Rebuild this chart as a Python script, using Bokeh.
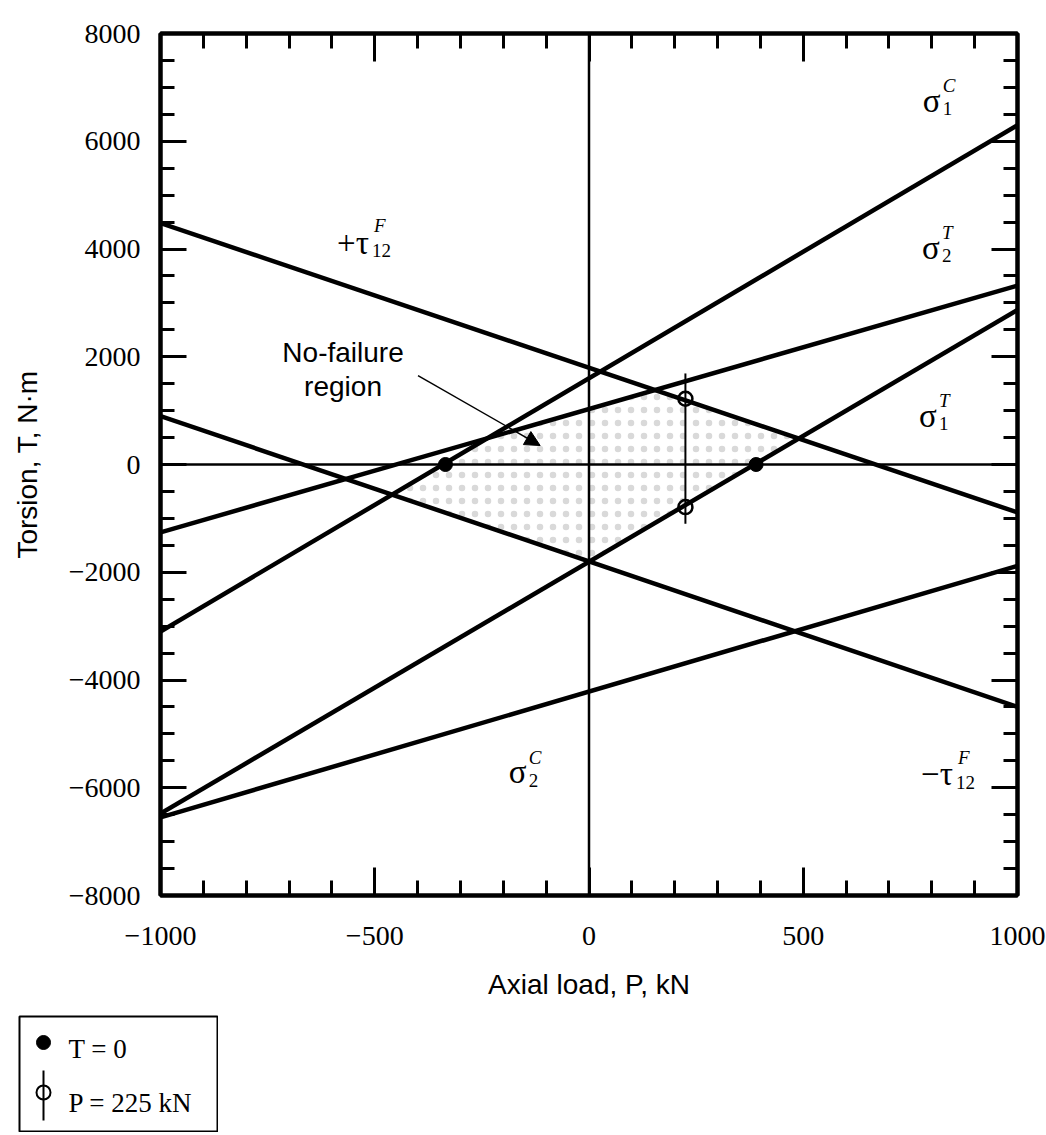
import numpy as np
from bokeh.plotting import figure
from bokeh.layouts import column
from bokeh.models import (Range1d, LinearAxis, SingleIntervalTicker, Span, Arrow,
                          NormalHead, CustomJSTickFormatter, ColumnDataSource)
from bokeh.core.properties import value
from bokeh.embed import file_html
from bokeh.resources import INLINE

# ---------------- data ----------------
P_ENDS = [-1000, 1000]          # axial load P, kN (line end points)
SIGMA1_C = [-3100, 6300]        # torsion T, N·m at P = -1000 / +1000
SIGMA1_T = [-6480, 2870]
SIGMA2_T = [-1260, 3320]
SIGMA2_C = [-6550, -1880]
TAU_POS = [4480, -890]
TAU_NEG = [900, -4500]

T0_P = [-335, 390]              # failure loads for T = 0
T0_T = [0, 0]
P225_P = [225, 225]             # failure torques for P = 225 kN
P225_T = [1220, -790]
P225_LOW = [-1100]
P225_HIGH = [1690]

X_TICKS = [-1000, -500, 0, 500, 1000]
X_TICK_LABELS = ["−1000", "−500", "0", "500", "1000"]
Y_TICKS = [-8000, -6000, -4000, -2000, 0, 2000, 4000, 6000, 8000]
Y_TICK_LABELS = ["−8000", "−6000", "−4000", "−2000", "0", "2000", "4000", "6000", "8000"]

# curve labels: main symbol, superscript, subscript, anchor (P, T)
LBL_MAIN = ["σ", "σ", "σ", "σ", "−τ", "+τ"]
LBL_SUP = ["C", "T", "T", "C", "F", "F"]
LBL_SUB = ["1", "2", "1", "2", "12", "12"]
LBL_P = [779, 777, 770, -187, 775, -588]
LBL_T = [6753, 4026, 909, -5714, -5751, 4119]

LEGEND_LABELS = ["T = 0", "P = 225 kN"]

SERIF = "Liberation Serif"
SANS = "Liberation Sans"

# ---------------- main figure ----------------
p = figure(frame_width=857, frame_height=862,
           x_range=Range1d(-1000, 1000), y_range=Range1d(-8000, 8000),
           min_border_left=160, min_border_right=29, min_border_top=33, min_border_bottom=110,
           x_axis_type=None, y_axis_type=None,
           output_backend="svg", toolbar_location=None)
p.background_fill_color = "white"
p.border_fill_color = "white"
p.outline_line_color = "black"
p.outline_line_width = 4


def style_axis(ax, major_len, minor_len):
    ax.axis_line_width = 4
    ax.axis_line_color = "black"
    ax.major_tick_in = major_len
    ax.major_tick_out = 0
    ax.minor_tick_in = minor_len
    ax.minor_tick_out = 0
    ax.major_tick_line_width = 3
    ax.minor_tick_line_width = 3
    ax.major_label_text_font = SERIF
    ax.major_label_text_font_size = "28px"
    ax.major_label_text_color = "black"
    ax.axis_label_text_font = SANS
    ax.axis_label_text_font_size = "28px"
    ax.axis_label_text_font_style = "normal"
    ax.axis_label_text_color = "black"


def x_ticker():
    return SingleIntervalTicker(interval=500, num_minor_ticks=5)


def y_ticker():
    return SingleIntervalTicker(interval=2000, num_minor_ticks=4)


xb = LinearAxis(ticker=x_ticker(), axis_label="Axial load, P, kN",
                major_label_overrides=dict(zip(X_TICKS, X_TICK_LABELS)))
style_axis(xb, 28, 15)
xb.major_label_standoff = 31
xb.axis_label_standoff = 21
p.add_layout(xb, "below")

yl = LinearAxis(ticker=y_ticker(), axis_label="Torsion, T, N·m",
                major_label_overrides=dict(zip(Y_TICKS, Y_TICK_LABELS)))
style_axis(yl, 26, 14)
yl.major_label_standoff = 20
yl.axis_label_standoff = 23
p.add_layout(yl, "left")

blank = "return ''"
xt = LinearAxis(ticker=x_ticker(), formatter=CustomJSTickFormatter(code=blank))
style_axis(xt, 28, 15)
xt.major_label_standoff = 0
p.add_layout(xt, "above")

yr = LinearAxis(ticker=y_ticker(), formatter=CustomJSTickFormatter(code=blank))
style_axis(yr, 26, 14)
yr.major_label_standoff = 0
p.add_layout(yr, "right")

# no-failure region (feasible region bounded by the six failure lines)
pg = np.linspace(-1000, 1000, 2001)
upper = np.minimum.reduce([np.interp(pg, P_ENDS, SIGMA1_C),
                           np.interp(pg, P_ENDS, SIGMA2_T),
                           np.interp(pg, P_ENDS, TAU_POS)])
lower = np.maximum.reduce([np.interp(pg, P_ENDS, SIGMA1_T),
                           np.interp(pg, P_ENDS, SIGMA2_C),
                           np.interp(pg, P_ENDS, TAU_NEG)])
m = upper > lower
reg_x = np.concatenate([pg[m], pg[m][::-1]])
reg_y = np.concatenate([upper[m], lower[m][::-1]])
p.patch(reg_x, reg_y, fill_alpha=0, line_alpha=0,
        hatch_pattern="dot", hatch_color="#d9d9d9", hatch_scale=13, hatch_weight=1)

# zero axes
p.add_layout(Span(location=0, dimension="width", line_color="black", line_width=2.5))
p.add_layout(Span(location=0, dimension="height", line_color="black", line_width=2.5))

# failure lines
for vals in (SIGMA1_C, SIGMA1_T, SIGMA2_T, SIGMA2_C, TAU_POS, TAU_NEG):
    p.line(P_ENDS, vals, line_color="black", line_width=4.5)

# markers
p.segment(x0=P225_P[:1], y0=P225_LOW, x1=P225_P[:1], y1=P225_HIGH,
          line_color="black", line_width=2)
p.scatter(P225_P, P225_T, marker="circle", size=14, fill_alpha=0,
          line_color="black", line_width=2.5)
p.scatter(T0_P, T0_T, marker="circle", size=14, fill_color="black", line_color="black")

# annotation: no-failure region
p.text(x=[-574], y=[2375], text=["No-failure\nregion"], text_align="center",
       text_baseline="top", text_font=value(SANS), text_font_size="28px",
       text_line_height=1.1, text_color="black")
p.add_layout(Arrow(end=NormalHead(size=15, fill_color="black", line_color="black"),
                   x_start=-399, y_start=1651, x_end=-114, y_end=352,
                   line_color="black", line_width=1.5))

# curve labels
n = len(LBL_MAIN)
is_tau = [t.endswith("τ") for t in LBL_MAIN]
src_main = ColumnDataSource(dict(x=LBL_P, y=LBL_T, text=LBL_MAIN))
src_sup = ColumnDataSource(dict(x=LBL_P, y=LBL_T, text=LBL_SUP,
                                xo=[37 if t else 20 for t in is_tau],
                                yo=[-17 if t else -15 for t in is_tau]))
src_sub = ColumnDataSource(dict(x=LBL_P, y=LBL_T, text=LBL_SUB,
                                xo=[35 if t else 20 for t in is_tau],
                                yo=[8] * n))
p.text(x="x", y="y", text="text", source=src_main, text_font=value(SERIF),
       text_font_size="33px", text_baseline="alphabetic", text_align="left", text_color="black")
p.text(x="x", y="y", text="text", source=src_sup, x_offset="xo", y_offset="yo",
       text_font=value(SERIF), text_font_style="italic", text_font_size="19px",
       text_baseline="alphabetic", text_align="left", text_color="black")
p.text(x="x", y="y", text="text", source=src_sub, x_offset="xo", y_offset="yo",
       text_font=value(SERIF), text_font_size="19px",
       text_baseline="alphabetic", text_align="left", text_color="black")

# ---------------- legend box (separate small figure) ----------------
lg = figure(frame_width=198, frame_height=115, min_border=1,
            x_range=Range1d(0, 198), y_range=Range1d(0, 115),
            x_axis_type=None, y_axis_type=None,
            output_backend="svg", toolbar_location=None,
            margin=(10, 0, 0, 18))
lg.outline_line_color = "black"
lg.outline_line_width = 2
lg.background_fill_color = "white"
lg.border_fill_color = "white"
lg.scatter([24], [89], marker="circle", size=14, fill_color="black", line_color="black")
lg.segment(x0=[24], y0=[11], x1=[24], y1=[61], line_color="black", line_width=2)
lg.scatter([24], [39], marker="circle", size=14, fill_alpha=0,
           line_color="black", line_width=2)
lg.text(x=[49, 49], y=[83, 29], text=LEGEND_LABELS, text_font=value(SERIF),
        text_font_size="27px", text_baseline="alphabetic", text_color="black")

for fig in (p, lg):
    if "frame_align" in fig.properties():
        fig.frame_align = False

layout = column(p, lg)
open("out.html", "w").write(file_html(layout, INLINE))
